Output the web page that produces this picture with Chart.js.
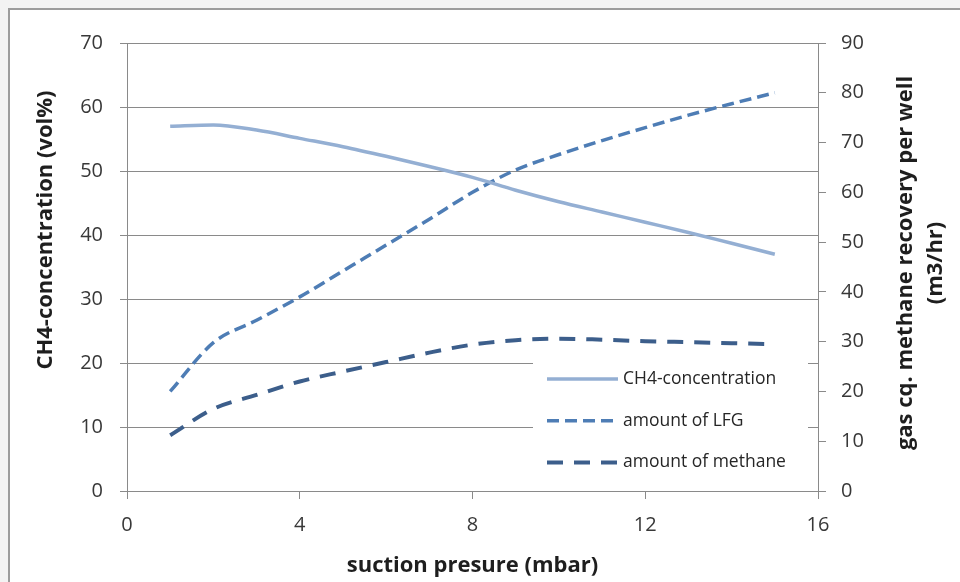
<!DOCTYPE html>
<html>
<head>
<meta charset="utf-8">
<title>suction pressure vs recovery</title>
<script src="https://cdn.jsdelivr.net/npm/chart.js@4.4.1/dist/chart.umd.min.js"></script>
<style>
  html, body { margin: 0; padding: 0; background: #f3f3f3; }
  .wrap { position: relative; width: 960px; height: 582px; overflow: hidden; }
  .frame {
    position: absolute; left: 8px; top: 8px; width: 980px; height: 600px;
    background: #fff; border-left: 2px solid #9c9c9c; border-top: 2px solid #9c9c9c;
  }
  canvas { position: absolute; left: 0; top: 0; }
</style>
</head>
<body>
<div class="wrap">
  <div class="frame"></div>
  <canvas id="chart" width="960" height="582"></canvas>
</div>
<script>
// ----- data -----
const pressure = [1, 2, 3, 4, 5, 6, 7, 8, 9, 10, 11, 12, 13, 14, 15];
const ch4Conc  = [57.0, 57.2, 56.4, 55.1, 53.8, 52.3, 50.7, 49.0, 47.0, 45.2, 43.6, 42.0, 40.4, 38.7, 37.0];
const lfgAmount     = [20.0, 29.8, 34.3, 39.0, 44.2, 49.4, 54.6, 60.0, 64.5, 67.6, 70.4, 73.0, 75.5, 77.8, 80.0];
const methaneAmount = [11.2, 16.5, 19.3, 22.0, 24.0, 25.9, 27.8, 29.4, 30.3, 30.6, 30.4, 30.1, 29.9, 29.7, 29.5];

const seriesNames = ['CH4-concentration', 'amount of LFG', 'amount of methane'];
const xTitle = 'suction presure (mbar)';
const yLeftTitle = 'CH4-concentration (vol%)';
const yRightTitle = ['gas cq. methane recovery per well', '(m3/hr)'];

const FONT = '"Open Sans", Lato, sans-serif';
const gridColor = '#8a8a8a';
const tickColor = '#383838';
const titleColor = '#1e1e1e';

const toPts = ys => pressure.map((x, i) => ({ x, y: ys[i] }));

// y축 제목 (왼쪽/오른쪽 모두 아래→위 방향)
const axisTitles = {
  id: 'axisTitles',
  afterDraw(chart){
    const { ctx } = chart;
    ctx.save();
    ctx.fillStyle = titleColor;
    ctx.font = 'bold 22px ' + FONT;
    ctx.textAlign = 'center';
    ctx.textBaseline = 'middle';

    ctx.save();
    ctx.translate(46, 230);
    ctx.rotate(-Math.PI / 2);
    ctx.fillText(yLeftTitle, 0, 0);
    ctx.restore();

    yRightTitle.forEach((t, i) => {
      ctx.save();
      ctx.translate(906 + i * 30, 263);
      ctx.rotate(-Math.PI / 2);
      ctx.fillText(t, 0, 0);
      ctx.restore();
    });
    ctx.restore();
  }
};

// 차트 안쪽 범례 (흰 바탕으로 격자 가림)
const innerLegend = {
  id: 'innerLegend',
  afterDraw(chart){
    const { ctx } = chart;
    const box = { x: 533, y: 351, w: 275, h: 133 };
    ctx.save();
    ctx.fillStyle = '#fff';
    ctx.fillRect(box.x, box.y, box.w, box.h);
    chart.data.datasets.forEach((ds, k) => {
      const y = 379 + k * 41.7;
      ctx.beginPath();
      ctx.strokeStyle = ds.borderColor;
      ctx.lineWidth = ds.borderWidth;
      ctx.setLineDash(ds.borderDash || []);
      ctx.moveTo(547, y);
      ctx.lineTo(618, y);
      ctx.stroke();
      ctx.setLineDash([]);
      ctx.fillStyle = '#262626';
      ctx.font = '17.5px ' + FONT;
      ctx.textAlign = 'left';
      ctx.textBaseline = 'middle';
      ctx.fillText(ds.label, 623, y);
    });
    ctx.restore();
  }
};

const ctx = document.getElementById('chart');
const chart = new Chart(ctx, {
  type: 'line',
  data: {
    datasets: [
      {
        label: seriesNames[0], data: toPts(ch4Conc), yAxisID: 'y',
        borderColor: '#94afd3', borderWidth: 3.5, borderDash: [],
        cubicInterpolationMode: 'monotone'
      },
      {
        label: seriesNames[1], data: toPts(lfgAmount), yAxisID: 'y1',
        borderColor: '#4e7db5', borderWidth: 3.5, borderDash: [12, 6],
        cubicInterpolationMode: 'monotone'
      },
      {
        label: seriesNames[2], data: toPts(methaneAmount), yAxisID: 'y1',
        borderColor: '#3c5e8b', borderWidth: 4, borderDash: [16, 11],
        cubicInterpolationMode: 'monotone'
      }
    ]
  },
  options: {
    responsive: false,
    animation: false,
    layout: { padding: { top: 43, left: 0, right: 0, bottom: 0 } },
    elements: { point: { radius: 0 } },
    plugins: { legend: { display: false }, tooltip: { enabled: false } },
    scales: {
      x: {
        type: 'linear', min: 0, max: 16,
        afterFit: s => { s.height = 91; },
        ticks: { stepSize: 4, color: tickColor, font: { family: FONT, size: 20 }, padding: 14, maxRotation: 0 },
        grid: { drawOnChartArea: false, color: gridColor, tickLength: 8 },
        border: { color: gridColor },
        title: {
          display: true, text: xTitle, color: titleColor,
          font: { family: FONT, size: 22, weight: 'bold' }, padding: { top: 0, bottom: 3 }
        }
      },
      y: {
        position: 'left', min: 0, max: 70,
        afterFit: s => { s.width = 127; },
        ticks: { stepSize: 10, color: tickColor, font: { family: FONT, size: 20 }, padding: 17 },
        grid: { color: gridColor, tickLength: 7 },
        border: { color: gridColor }
      },
      y1: {
        position: 'right', min: 0, max: 90,
        afterFit: s => { s.width = 142; },
        ticks: { stepSize: 10, color: tickColor, font: { family: FONT, size: 20 }, padding: 15 },
        grid: { drawOnChartArea: false, color: gridColor, tickLength: 8 },
        border: { color: gridColor }
      }
    }
  },
  plugins: [axisTitles, innerLegend]
});
</script>
</body>
</html>
